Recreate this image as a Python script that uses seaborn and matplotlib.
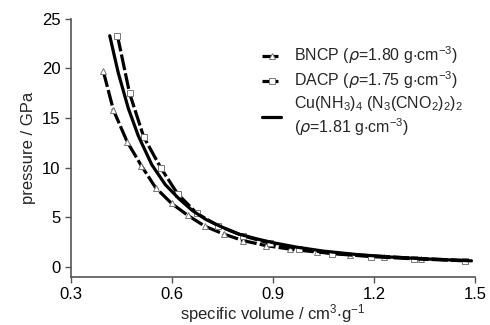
import matplotlib
matplotlib.use("Agg")
import matplotlib.pyplot as plt
import seaborn as sns

# values
bncp_v = [0.396, 0.426, 0.467, 0.509, 0.551, 0.599, 0.647, 0.698, 0.755, 0.812,
          0.88, 0.95, 1.03, 1.13, 1.23, 1.34, 1.47]
bncp_p = [19.7, 15.8, 12.6, 10.2, 8.0, 6.4, 5.2, 4.1, 3.3, 2.65,
          2.15, 1.8, 1.5, 1.25, 1.05, 0.85, 0.65]

dacp_v = [0.438, 0.474, 0.516, 0.567, 0.617, 0.674, 0.737, 0.81, 0.89, 0.977,
          1.075, 1.19, 1.32, 1.47]
dacp_p = [23.3, 17.5, 13.1, 9.97, 7.35, 5.4, 4.15, 3.15, 2.4, 1.85,
          1.35, 1.05, 0.82, 0.62]

cu_v = [0.415, 0.44, 0.47, 0.50, 0.54, 0.58, 0.62, 0.66, 0.70, 0.75, 0.80,
        0.85, 0.90, 0.97, 1.05, 1.15, 1.25, 1.35, 1.49]
cu_p = [23.3, 19.6, 16.0, 13.2, 10.3, 8.3, 6.9, 5.7, 4.8, 4.0, 3.3,
        2.85, 2.45, 2.0, 1.6, 1.25, 1.0, 0.82, 0.62]

labels = [r"BNCP ($\mathit{\rho}$=1.80 g$\cdot$cm$^{-3}$)",
          r"DACP ($\mathit{\rho}$=1.75 g$\cdot$cm$^{-3}$)",
          "Cu(NH$_3$)$_4$ (N$_3$(CNO$_2$)$_2$)$_2$" + "\n" + r"($\mathit{\rho}$=1.81 g$\cdot$cm$^{-3}$)"]

xticks = [0.3, 0.6, 0.9, 1.2, 1.5]
yticks = [0, 5, 10, 15, 20, 25]

sns.set_theme(style="ticks")
plt.rcParams["font.family"] = ["Liberation Sans", "DejaVu Sans"]
plt.rcParams["mathtext.default"] = "regular"

fig = plt.figure(figsize=(4.9, 3.25), dpi=100)
ax = fig.add_axes([0.145, 0.148, 0.824, 0.794])

dash = (0, (5, 1.0))
mk = dict(markerfacecolor="white", markeredgecolor="#777777", markeredgewidth=0.7)
sns.lineplot(x=bncp_v, y=bncp_p, ax=ax, color="black", lw=2.3, linestyle=dash,
             marker="^", markersize=5, sort=False, estimator=None,
             label=labels[0], **mk)
sns.lineplot(x=dacp_v, y=dacp_p, ax=ax, color="black", lw=2.3, linestyle=dash,
             marker="s", markersize=4.5, sort=False, estimator=None,
             label=labels[1], **mk)
sns.lineplot(x=cu_v, y=cu_p, ax=ax, color="black", lw=2.3,
             sort=False, estimator=None, label=labels[2])
for ln in ax.lines[:2]:
    ln.set_markeredgecolor("#777777")
    ln.set_markerfacecolor("white")

ax.set_xlim(0.3, 1.5)
ax.set_ylim(-1, 25)
ax.set_xticks(xticks)
ax.set_xticklabels([str(t) for t in xticks])
ax.set_yticks(yticks)
ax.tick_params(labelsize=12, colors="black", length=4, width=1, color="#555555")
for s in ["left", "bottom"]:
    ax.spines[s].set_color("#555555")
    ax.spines[s].set_linewidth(1.2)
sns.despine(ax=ax)

ax.set_xlabel(r"specific volume / cm$^3$$\cdot$g$^{-1}$", fontsize=12, labelpad=0)
ax.set_ylabel("pressure / GPa", fontsize=12, labelpad=4)

leg = ax.legend(loc="upper left", bbox_to_anchor=(0.473, 0.9), frameon=False,
                fontsize=11.5, handlelength=1.2, handletextpad=0.8,
                labelspacing=0.2, borderaxespad=0, borderpad=0)
for h in leg.legend_handles[:2]:
    h.set_markeredgecolor("#777777")
    h.set_markerfacecolor("white")

fig.savefig("out.png", dpi=100)
